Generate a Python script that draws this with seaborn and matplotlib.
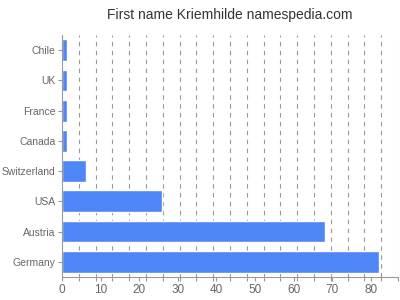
import matplotlib
matplotlib.use("Agg")
import matplotlib.pyplot as plt
import seaborn as sns
import numpy as np
import pandas as pd

countries = ["Chile", "UK", "France", "Canada", "Switzerland", "USA", "Austria", "Germany"]
values = [1.2, 1.2, 1.2, 1.2, 6.2, 26, 68, 82]
xticks = [0, 10, 20, 30, 40, 50, 60, 70, 80]
title = "First name Kriemhilde namespedia.com"

sns.set_style("white")
plt.rcParams['font.family'] = ['Liberation Sans', 'DejaVu Sans']

df = pd.DataFrame({"country": countries, "value": values})
fig = plt.figure(figsize=(4, 3), dpi=100)
ax = fig.add_axes([0.155, 0.077, 0.84, 0.806])
sns.barplot(data=df, y="country", x="value", color="#4F86F7", saturation=1, width=0.72, ax=ax, orient="h")

xmax = 87
ax.set_xlim(0, xmax)
ax.set_ylim(7.5, -0.5)
ax.set_xticks(xticks)
ax.set_xticks(np.linspace(0, xmax, 21), minor=True)
ax.grid(False)
for xv in np.linspace(0, xmax, 21)[1:]:
    ax.axvline(xv, color="#999999", lw=0.8, dashes=(4, 4), zorder=0)
ax.set_xlabel("")
ax.set_ylabel("")
for s in ["top", "right"]:
    ax.spines[s].set_visible(False)
for s in ["left", "bottom"]:
    ax.spines[s].set_color("#999999")
    ax.spines[s].set_linewidth(0.8)
ax.tick_params(axis="y", which="both", colors="#999999", labelcolor="#666666", labelsize=7.5, length=3, width=0.8, left=True, pad=1.5)
ax.tick_params(axis="x", which="both", colors="#999999", labelcolor="#666666", labelsize=8.5, length=3, width=0.8, bottom=True, pad=2)
fig.suptitle(title, x=0.575, y=0.975, fontsize=10, color="#333333")
fig.savefig("out.png", dpi=100)
